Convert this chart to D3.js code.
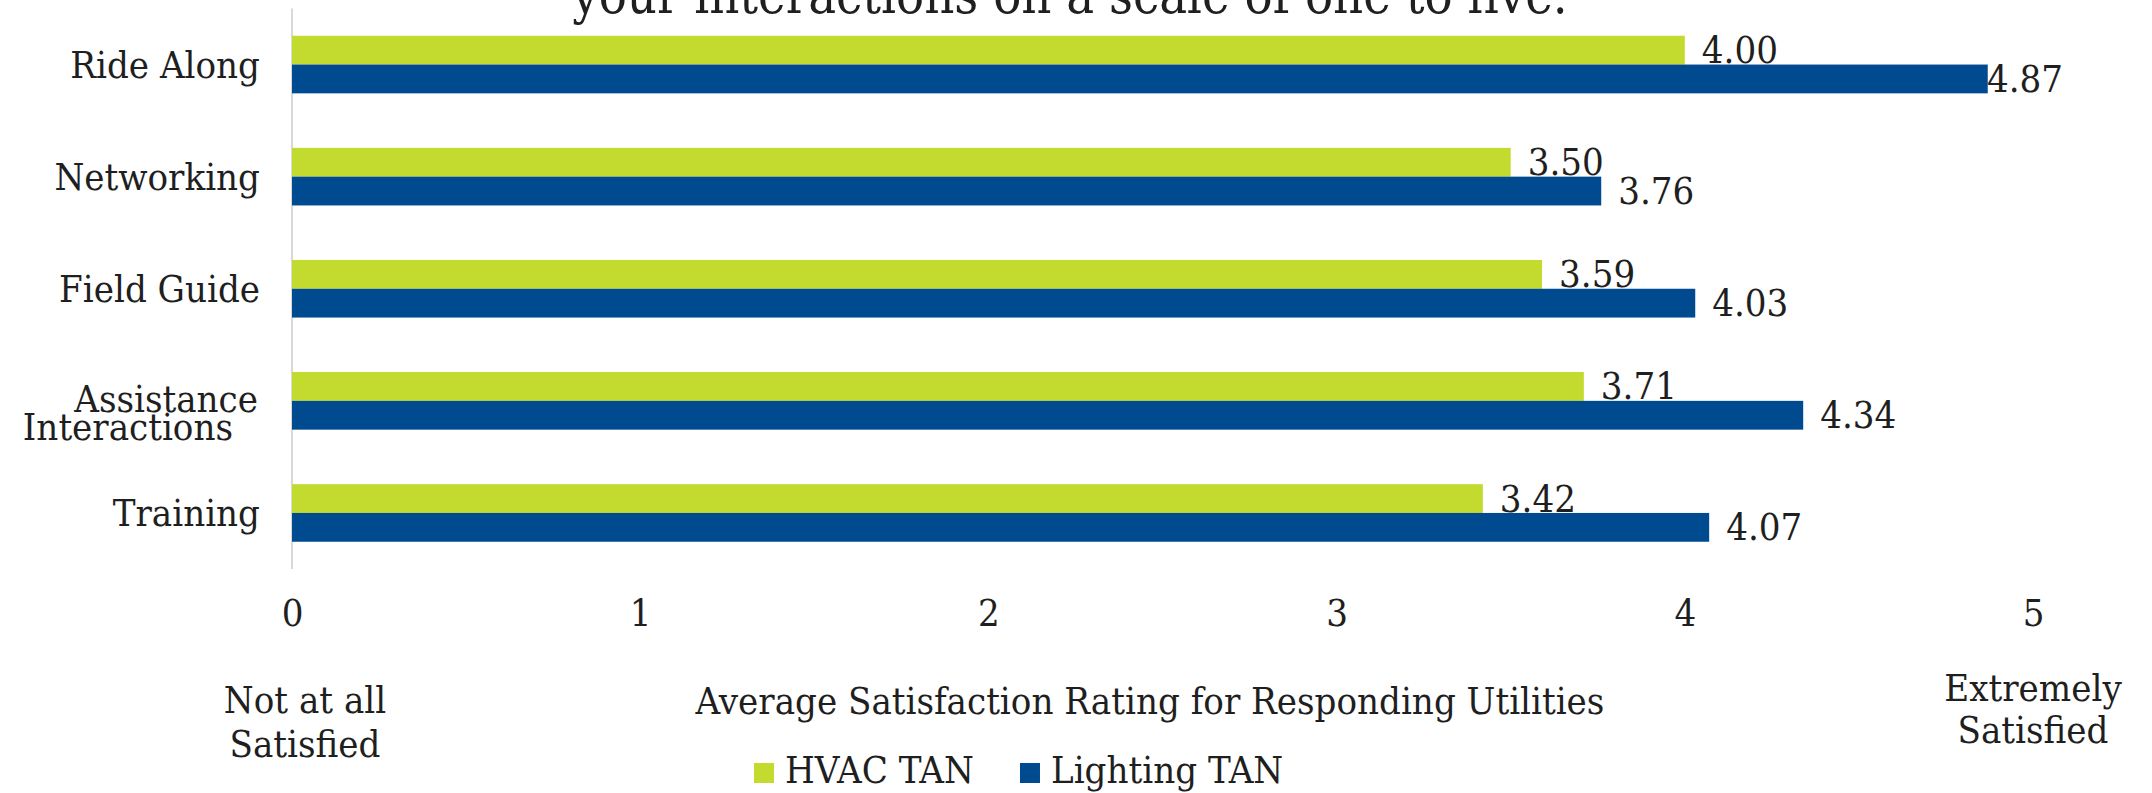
<!DOCTYPE html>
<html>
<head>
<meta charset="utf-8">
<script src="https://cdn.jsdelivr.net/npm/d3@7"></script>
<style>
  body { margin: 0; background: #fff; }
  text { font-family: "DejaVu Serif Condensed", "DejaVu Serif", serif; font-stretch: condensed; fill: #1f1f1f; }
</style>
</head>
<body>
<script>
  var categories = ["Ride Along", "Networking", "Field Guide", "Assistance Interactions", "Training"];
  var hvac = [4.00, 3.50, 3.59, 3.71, 3.42];
  var lighting = [4.87, 3.76, 4.03, 4.34, 4.07];
  var seriesNames = ["HVAC TAN", "Lighting TAN"];
  var xTicks = [0, 1, 2, 3, 4, 5];

  var width = 2152, height = 793;
  var colors = ["#c3da2f", "#004a8f"];
  var fs = 38;

  var svg = d3.select("body").append("svg")
      .attr("width", width)
      .attr("height", height);

  var xScale = d3.scaleLinear().domain([0, 5]).range([292, 2033]);
  var yScale = d3.scaleBand().domain(categories).range([8.5, 569]);
  var barH = 28.8;

  // title (top line is cut off in the original)
  svg.append("text")
    .attr("x", 1070)
    .attr("y", 13)
    .attr("text-anchor", "middle")
    .attr("font-size", 52)
    .text("your interactions on a scale of one to five.");

  // axis line
  svg.append("line")
    .attr("x1", xScale(0)).attr("x2", xScale(0))
    .attr("y1", yScale.range()[0]).attr("y2", yScale.range()[1])
    .attr("stroke", "#d9d9d9")
    .attr("stroke-width", 2);

  // bottom axis: labels only
  var xAxis = svg.append("g")
    .attr("transform", "translate(0,626)")
    .call(d3.axisBottom(xScale).tickValues(xTicks).tickFormat(d3.format("d")).tickSize(0).tickPadding(0));
  xAxis.select(".domain").remove();
  xAxis.selectAll("text")
    .attr("font-size", fs)
    .attr("font-family", null)
    .attr("dy", 0)
    .attr("y", 0);

  // category labels
  categories.forEach(function(c, i) {
    var cy = yScale(c) + yScale.bandwidth() / 2;
    if (c === "Assistance Interactions") {
      svg.append("text").attr("x", 258).attr("y", cy + 11).attr("text-anchor", "end")
        .attr("font-size", fs).text("Assistance");
      svg.append("text").attr("x", 233).attr("y", cy + 39).attr("text-anchor", "end")
        .attr("font-size", fs).text("Interactions");
    } else {
      svg.append("text").attr("x", 260).attr("y", cy + 13).attr("text-anchor", "end")
        .attr("font-size", fs).text(c);
    }
  });

  var series = [hvac, lighting];
  var rightLimit = 2063;

  series.forEach(function(vals, s) {
    var g = svg.append("g");
    g.selectAll("rect")
      .data(vals)
      .enter().append("rect")
      .attr("x", xScale(0))
      .attr("y", function(d, i) { return yScale(categories[i]) + yScale.bandwidth() / 2 - barH + s * barH; })
      .attr("width", function(d) { return xScale(d) - xScale(0); })
      .attr("height", barH)
      .attr("fill", colors[s]);

    g.selectAll("text")
      .data(vals)
      .enter().append("text")
      .attr("y", function(d, i) { return yScale(categories[i]) + yScale.bandwidth() / 2 - barH + s * barH + barH / 2 + 13; })
      .attr("font-size", fs)
      .text(function(d) { return d.toFixed(2); })
      .attr("x", function(d) {
        var w = this.getComputedTextLength();
        return Math.min(xScale(d) + 17, rightLimit - w);
      });
  });

  // axis end notes
  svg.append("text").attr("x", 305).attr("y", 713).attr("text-anchor", "middle")
    .attr("font-size", fs).text("Not at all");
  svg.append("text").attr("x", 305).attr("y", 757).attr("text-anchor", "middle")
    .attr("font-size", fs).text("Satisfied");
  svg.append("text").attr("x", 2033).attr("y", 701).attr("text-anchor", "middle")
    .attr("font-size", fs).text("Extremely");
  svg.append("text").attr("x", 2033).attr("y", 743).attr("text-anchor", "middle")
    .attr("font-size", fs).text("Satisfied");

  // axis title
  svg.append("text").attr("x", 1150).attr("y", 714).attr("text-anchor", "middle")
    .attr("font-size", fs).text("Average Satisfaction Rating for Responding Utilities");

  // legend
  var lx = 754;
  seriesNames.forEach(function(name, i) {
    svg.append("rect")
      .attr("x", lx).attr("y", 763)
      .attr("width", 20).attr("height", 20)
      .attr("fill", colors[i]);
    var t = svg.append("text")
      .attr("x", lx + 31).attr("y", 783)
      .attr("font-size", fs)
      .text(name);
    lx = lx + 31 + t.node().getComputedTextLength() + 46;
  });
</script>
</body>
</html>
